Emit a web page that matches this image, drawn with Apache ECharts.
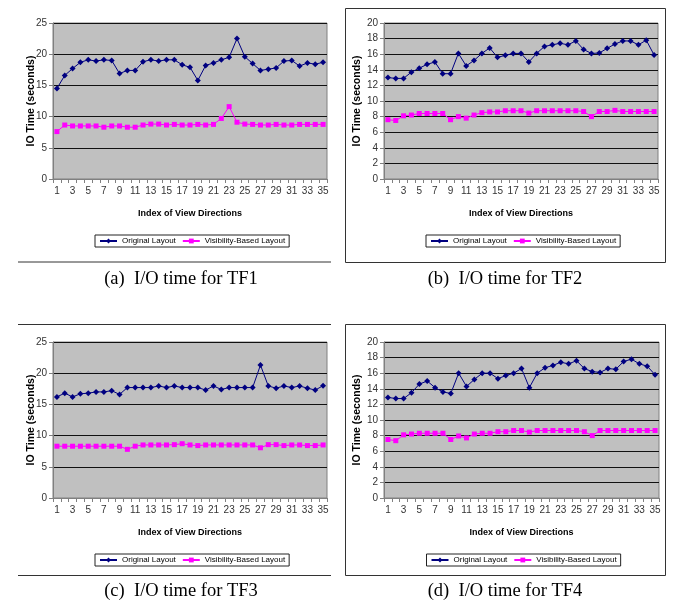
<!DOCTYPE html>
<html><head><meta charset="utf-8">
<script src="https://cdn.jsdelivr.net/npm/echarts@6/dist/echarts.min.js"></script>
<style>html,body{margin:0;padding:0;background:#fff}#c{width:674px;height:613px}</style>
</head><body><div id="c"></div>
<script>
var categories = [];
for (var i = 1; i <= 35; i++) categories.push(String(i));

var tf1Original = [14.5,16.6,17.7,18.7,19.1,18.9,19.1,19.0,16.9,17.4,17.4,18.8,19.1,18.9,19.1,19.1,18.3,17.9,15.8,18.2,18.6,19.1,19.5,22.5,19.6,18.5,17.4,17.6,17.8,18.9,19.0,18.1,18.6,18.4,18.7];
var tf1Visibility = [7.6,8.65,8.5,8.5,8.5,8.5,8.3,8.5,8.5,8.3,8.3,8.65,8.8,8.8,8.65,8.75,8.65,8.65,8.75,8.65,8.75,9.7,11.6,9.1,8.8,8.75,8.65,8.65,8.75,8.65,8.65,8.75,8.75,8.75,8.75];
var tf2Original = [13.0,12.9,12.9,13.7,14.2,14.7,15.0,13.5,13.5,16.1,14.5,15.2,16.1,16.8,15.6,15.85,16.1,16.1,15.0,16.1,17.0,17.2,17.4,17.2,17.7,16.6,16.1,16.15,16.75,17.3,17.7,17.7,17.2,17.8,15.9];
var tf2Visibility = [7.6,7.5,8.1,8.2,8.4,8.4,8.4,8.4,7.6,8.0,7.8,8.2,8.5,8.6,8.6,8.75,8.75,8.75,8.45,8.75,8.75,8.75,8.75,8.75,8.75,8.65,8.0,8.65,8.65,8.8,8.65,8.65,8.65,8.65,8.65];
var tf3Original = [16.2,16.8,16.2,16.7,16.8,17.0,17.0,17.2,16.6,17.7,17.7,17.7,17.7,17.95,17.7,17.95,17.7,17.7,17.7,17.3,17.95,17.4,17.7,17.7,17.7,17.7,21.3,17.95,17.6,17.95,17.7,17.95,17.6,17.3,18.0];
var tf3Visibility = [8.3,8.3,8.3,8.3,8.3,8.3,8.3,8.3,8.3,7.8,8.3,8.5,8.5,8.5,8.5,8.55,8.7,8.5,8.4,8.5,8.5,8.5,8.5,8.5,8.5,8.5,8.05,8.55,8.55,8.4,8.5,8.5,8.4,8.4,8.5];
var tf4Original = [12.9,12.75,12.75,13.5,14.6,15.0,14.15,13.6,13.4,16.0,14.3,15.2,16.0,16.0,15.3,15.7,16.0,16.6,14.15,16.0,16.7,17.0,17.4,17.2,17.6,16.6,16.2,16.1,16.6,16.5,17.5,17.8,17.2,16.9,15.8];
var tf4Visibility = [7.5,7.35,8.1,8.2,8.3,8.3,8.3,8.3,7.5,7.95,7.7,8.2,8.3,8.3,8.5,8.5,8.65,8.65,8.45,8.65,8.65,8.65,8.65,8.65,8.65,8.5,8.0,8.65,8.65,8.65,8.65,8.65,8.65,8.65,8.65];

var captions = ['(a)  I/O time for TF1','(b)  I/O time for TF2','(c)  I/O time for TF3','(d)  I/O time for TF4'];
var yMaxes = [25, 20, 25, 20];
var yIntervals = [5, 2, 5, 2];
var seriesNames = ['Original Layout','Visibility-Based Layout'];
var dataSets = [[tf1Original,tf1Visibility],[tf2Original,tf2Visibility],[tf3Original,tf3Visibility],[tf4Original,tf4Visibility]];

var SANS = "'Liberation Sans',Arial,sans-serif";
var grids = [
  {left:53, top:23, width:274, height:156},
  {left:384, top:23, width:274, height:156},
  {left:53, top:342, width:274, height:156},
  {left:384, top:342, width:275, height:156}
];
var yNameGaps = [16, 21, 16, 21];

var option = {
  animation:false,
  backgroundColor:'#fff',
  grid: grids.map(function(g){return Object.assign({show:true, backgroundColor:'#c0c0c0', borderColor:'#808080', borderWidth:1}, g);}),
  xAxis: grids.map(function(g,k){return {
    gridIndex:k, type:'category', data:categories, boundaryGap:true,
    axisLine:{lineStyle:{color:'#808080', width:1}},
    axisTick:{show:true, interval:0, length:4, lineStyle:{color:'#808080'}},
    axisLabel:{interval:1, margin:7, color:'#333', fontSize:10, fontFamily:SANS},
    name:'Index of View Directions', nameLocation:'middle', nameGap:30, nameMoveOverlap:false,
    nameTextStyle:{fontWeight:'bold', fontSize:9, fontFamily:SANS, color:'#000'},
    splitLine:{show:false}
  };}),
  yAxis: grids.map(function(g,k){return {
    gridIndex:k, type:'value', min:0, max:yMaxes[k], interval:yIntervals[k],
    axisLine:{show:true, lineStyle:{color:'#808080'}},
    axisTick:{show:true, length:4, lineStyle:{color:'#808080'}},
    axisLabel:{margin:6, color:'#333', fontSize:10, fontFamily:SANS},
    splitLine:{show:true, lineStyle:{color:'#111', width:1}},
    name:'IO Time (seconds)', nameLocation:'middle', nameGap:yNameGaps[k], nameRotate:90, nameMoveOverlap:false,
    nameTextStyle:{fontWeight:'bold', fontSize:10.5, fontFamily:SANS, color:'#000'}
  };}),
  legend: grids.map(function(g,k){return {
    data:seriesNames, left:g.left + g.width/2 - 95, top:g.top + 212,
    orient:'horizontal', borderColor:'#222', borderWidth:1, padding:[2,4],
    itemGap:6, itemWidth:17, itemHeight:6,
    textStyle:{fontSize:8, fontFamily:SANS, color:'#000'}
  };}),
  series: [],
  graphic: [
    {type:'line', shape:{x1:18, y1:262, x2:331, y2:262}, style:{stroke:'#333', lineWidth:1}},
    {type:'rect', shape:{x:345.5, y:8.5, width:320, height:254}, style:{fill:'none', stroke:'#333', lineWidth:1}},
    {type:'line', shape:{x1:18, y1:324.5, x2:331, y2:324.5}, style:{stroke:'#333', lineWidth:1}},
    {type:'line', shape:{x1:18, y1:575.5, x2:331, y2:575.5}, style:{stroke:'#333', lineWidth:1}},
    {type:'rect', shape:{x:345.5, y:324.5, width:320, height:251}, style:{fill:'none', stroke:'#333', lineWidth:1}}
  ]
};

var capPos = [[181,279],[505,279],[181,591],[505,591]];
captions.forEach(function(t,k){
  option.graphic.push({type:'text', x:capPos[k][0], y:capPos[k][1], style:{text:t, fill:'#000', font:"18.5px 'Liberation Serif','Times New Roman',serif", textAlign:'center', textVerticalAlign:'middle'}});
});

dataSets.forEach(function(ds,k){
  option.series.push({
    name:seriesNames[0], type:'line', xAxisIndex:k, yAxisIndex:k, data:ds[0],
    symbol:'diamond', symbolSize:6, showAllSymbol:true,
    lineStyle:{color:'#000080', width:1}, itemStyle:{color:'#000080'}
  });
  option.series.push({
    name:seriesNames[1], type:'line', xAxisIndex:k, yAxisIndex:k, data:ds[1],
    symbol:'rect', symbolSize:5, showAllSymbol:true,
    lineStyle:{color:'#ff00ff', width:1}, itemStyle:{color:'#ff00ff'}
  });
});

var chart = echarts.init(document.getElementById('c'));
chart.setOption(option);
</script>
</body></html>
